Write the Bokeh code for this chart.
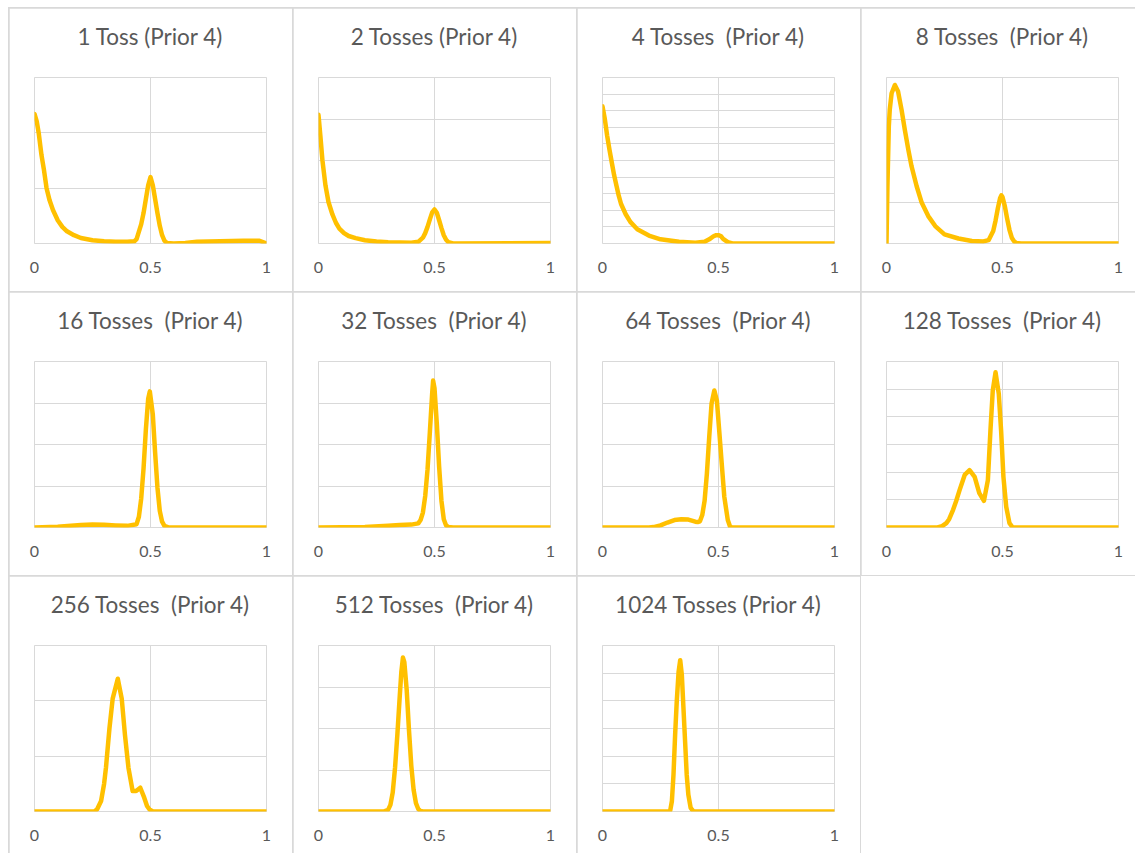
from bokeh.plotting import figure
from bokeh.layouts import gridplot
from bokeh.models import Range1d, FixedTicker, Spacer, Title
from bokeh.embed import file_html
from bokeh.resources import INLINE

# Posterior density of the coin's heads probability after n tosses (prior 4)
TITLES = [
    "1 Toss (Prior 4)", "2 Tosses (Prior 4)", "4 Tosses\u00a0 (Prior 4)", "8 Tosses\u00a0 (Prior 4)",
    "16 Tosses\u00a0 (Prior 4)", "32 Tosses\u00a0 (Prior 4)", "64 Tosses\u00a0 (Prior 4)", "128 Tosses\u00a0 (Prior 4)",
    "256 Tosses\u00a0 (Prior 4)", "512 Tosses\u00a0 (Prior 4)", "1024 Tosses (Prior 4)",
]
X_TICKS = [0, 0.5, 1]
X_TICK_LABELS = ["0", "0.5", "1"]
Y_TOP = [15, 20, 50, 20, 20, 20, 20, 12, 15, 20, 30]
Y_STEP = [5, 5, 5, 5, 5, 5, 5, 2, 5, 5, 5]

X_1 = [0, .01, .018, .03, .04, .052, .065, .08, .10, .12, .14, .17, .20, .25, .30, .35, .40,
       .43, .44, .46, .47, .48, .49, .50, .51, .52, .53, .54, .55, .56, .57, .60, .65, .70, .80, .90, .97, 1.0]
Y_1 = [11.7, 11.0, 10.0, 8.0, 6.75, 5.0, 3.9, 3.0, 2.1, 1.5, 1.1, 0.75, 0.5, 0.3, 0.2, 0.15, 0.15,
       0.2, 0.4, 1.75, 2.75, 4.0, 5.25, 6.0, 5.25, 4.0, 2.75, 1.6, 0.75, 0.25, 0.05, 0.0, 0.05, 0.15, 0.2, 0.25, 0.25, 0.0]

X_2 = [0, .008, .017, .03, .043, .06, .075, .09, .11, .13, .16, .20, .25, .30, .35, .40,
       .43, .45, .46, .47, .48, .49, .50, .51, .52, .53, .54, .55, .56, .58, 1.0]
Y_2 = [15.5, 13.0, 10.0, 7.0, 5.0, 3.5, 2.5, 1.8, 1.25, 0.9, 0.65, 0.4, 0.25, 0.15, 0.12, 0.1,
       0.2, 0.7, 1.25, 2.0, 2.9, 3.75, 4.1, 3.7, 2.8, 1.85, 1.0, 0.45, 0.15, 0.0, 0.05]

X_4 = [0, .01, .02, .03, .04, .05, .06, .07, .08, .10, .12, .15, .20, .25, .33, .40, .44, .46, .48, .49, .50,
       .51, .52, .54, .56, 1.0]
Y_4 = [41.3, 37.5, 32.5, 28.3, 24.4, 20.6, 17.5, 14.4, 11.9, 8.8, 6.5, 4.3, 2.4, 1.25, 0.5, 0.25, 0.5, 1.25, 2.25, 2.5,
       2.5, 2.25, 1.4, 0.4, 0.0, 0.0]

X_8 = [0, .004, .01, .014, .022, .036, .05, .065, .079, .094, .108, .13, .152, .18, .21, .25, .31, .368, .418,
       .44, .46, .47, .48, .49, .495, .50, .51, .52, .53, .54, .55, .56, .58, 1.0]
Y_8 = [0, 6.9, 14.1, 16.1, 18.1, 19.1, 18.3, 16.1, 13.7, 11.3, 9.3, 6.9, 4.9, 3.3, 2.1, 1.1, 0.6, 0.3, 0.25,
       0.4, 1.5, 2.75, 4.25, 5.5, 5.8, 5.6, 4.5, 3.0, 1.65, 0.7, 0.25, 0.05, 0, 0]

X_16 = [0, .10, .20, .25, .30, .35, .40, .44, .45, .46, .47, .48, .49, .497, .51, .52, .53, .54, .55, .56, .58, 1.0]
Y_16 = [0, 0.1, 0.3, 0.35, 0.33, 0.25, 0.2, 0.4, 1.3, 3.5, 7.1, 11.8, 15.5, 16.4, 13.6, 9.0, 4.8, 2.0, 0.7, 0.2, 0, 0]

X_32 = [0, .20, .30, .35, .40, .43, .44, .45, .46, .47, .48, .49, .494, .50, .51, .52, .53, .54, .55, .56, .58, 1.0]
Y_32 = [0, 0.05, 0.2, 0.3, 0.35, 0.5, 0.9, 1.8, 3.8, 7.0, 11.5, 16.2, 17.7, 16.8, 12.5, 7.3, 3.2, 1.0, 0.25, 0.05, 0, 0]

X_64 = [0, .20, .22, .25, .28, .31, .34, .37, .40, .41, .42, .43, .44, .45, .46, .47, .482, .493, .503, .515,
        .525, .54, .55, .56, 1.0]
Y_64 = [0, 0, 0.05, 0.25, 0.6, 0.9, 1.0, 0.95, 0.7, 0.65, 0.75, 1.5, 3.2, 6.5, 10.9, 14.9, 16.5, 15.3, 11.7, 7.3,
        3.7, 0.9, 0.1, 0, 0]

X_128 = [0, .22, .24, .258, .27, .287, .30, .315, .337, .358, .38, .40, .42, .437, .448, .458, .47, .484, .494,
         .504, .516, .53, .544, 1.0]
Y_128 = [0, 0, 0.1, 0.32, 0.6, 1.28, 1.9, 2.7, 3.8, 4.14, 3.66, 2.48, 1.92, 3.42, 7.0, 9.9, 11.22, 9.66, 7.0,
         3.66, 1.5, 0.32, 0, 0]

X_256 = [0, .258, .27, .287, .30, .308, .323, .337, .359, .376, .39, .405, .423, .438, .456, .473, .485, .495,
         .51, 1.0]
Y_256 = [0, 0, 0.2, 0.95, 2.5, 3.95, 7.5, 10.2, 12.0, 10.2, 6.9, 3.95, 1.85, 1.85, 2.15, 1.25, 0.5, 0.2, 0, 0]

X_512 = [0, .28, .30, .31, .32, .33, .34, .35, .357, .364, .37, .38, .39, .40, .41, .42, .43, .44, .45, 1.0]
Y_512 = [0, 0, 0.2, 0.8, 2.3, 5.3, 9.3, 13.8, 16.8, 18.55, 18.0, 14.7, 9.8, 5.5, 2.6, 1.0, 0.3, 0.05, 0, 0]

X_1024 = [0, .285, .292, .299, .306, .313, .32, .328, .335, .342, .349, .356, .363, .37, .38, .392, 1.0]
Y_1024 = [0, 0, 0.2, 1.85, 6.65, 13.85, 19.85, 25.25, 27.35, 24.65, 18.65, 12.65, 6.65, 3.05, 0.65, 0, 0]

SERIES = [(X_1, Y_1), (X_2, Y_2), (X_4, Y_4), (X_8, Y_8), (X_16, Y_16), (X_32, Y_32),
          (X_64, Y_64), (X_128, Y_128), (X_256, Y_256), (X_512, Y_512), (X_1024, Y_1024)]

CELL = 283
LAST_COL_W = 274   # right-hand column is cut by the page edge
LAST_ROW_H = 277   # bottom row is cut by the page edge
GOLD = "#FFC000"
GRID = "#d9d9d9"
TEXT = "#595959"
FONT = "Lato"


def make_panel(title, xs, ys, top, step, w, h):
    p = figure(width=w, height=h, x_range=Range1d(0, 1), y_range=Range1d(0, top),
               output_backend="svg", toolbar_location=None,
               min_border_left=25, min_border_right=w - 25 - 232,
               min_border_top=69, min_border_bottom=h - 69 - 166)
    # empty strip that keeps the heading clear of the plot area
    p.add_layout(Title(text=" ", text_font_size="1px", standoff=25), "above")
    p.title.text = title
    p.title.align = "center"
    p.title.text_font = FONT
    p.title.text_font_size = "22.5px"
    p.title.text_font_style = "normal"
    p.title.text_color = TEXT
    p.title.standoff = 0

    p.yaxis.visible = False
    ax = p.xaxis[0]
    ax.ticker = FixedTicker(ticks=X_TICKS)
    ax.major_label_overrides = dict(zip(X_TICKS, X_TICK_LABELS))
    ax.axis_line_color = None
    ax.major_tick_line_color = None
    ax.minor_tick_line_color = None
    ax.major_label_text_font = FONT
    ax.major_label_text_font_size = "16px"
    ax.major_label_text_color = TEXT
    ax.major_label_standoff = 12

    p.xgrid.ticker = FixedTicker(ticks=X_TICKS)
    n = int(round(top / step))
    p.ygrid.ticker = FixedTicker(ticks=[i * step for i in range(n + 1)])
    p.grid.grid_line_color = GRID
    p.grid.grid_line_width = 1
    p.outline_line_color = GRID

    p.line(xs, ys, line_color=GOLD, line_width=4.5, line_join="round", line_cap="round")
    return p


panels = []
for i, (t, (xs, ys), top, step) in enumerate(zip(TITLES, SERIES, Y_TOP, Y_STEP)):
    w = LAST_COL_W if i % 4 == 3 else CELL
    h = LAST_ROW_H if i >= 8 else CELL
    panels.append(make_panel(t, xs, ys, top, step, w, h))

blank = Spacer(width=LAST_COL_W, height=LAST_ROW_H, styles={"background-color": "white"})

grid = gridplot([panels[0:4], panels[4:8], panels[8:11] + [blank]], toolbar_location=None)
grid.spacing = 1
grid.margin = (7, 0, 0, 8)
grid.styles = {"background-color": GRID, "border-top": "1px solid " + GRID, "border-left": "1px solid " + GRID}

open("out.html", "w").write(file_html(grid, INLINE))
